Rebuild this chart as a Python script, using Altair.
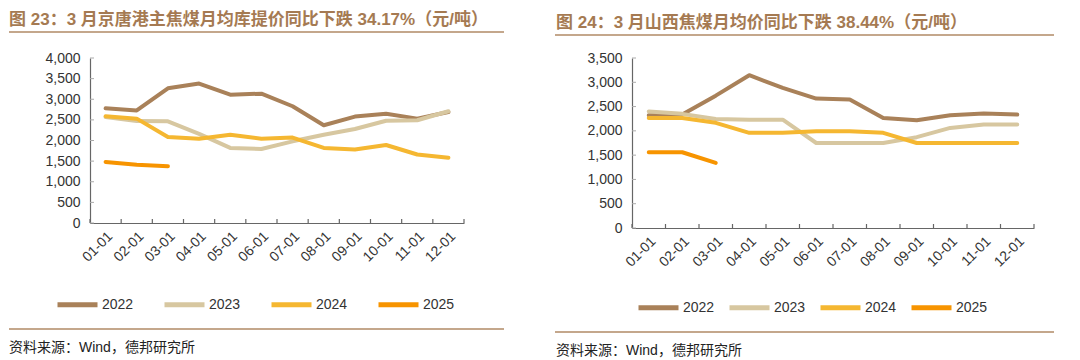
import altair as alt
import pandas as pd

months = ["01-01", "02-01", "03-01", "04-01", "05-01", "06-01",
          "07-01", "08-01", "09-01", "10-01", "11-01", "12-01"]
years = ["2022", "2023", "2024", "2025"]
colors = ["#A98159", "#D7C7A0", "#F5B731", "#F79400"]

# 图23 京唐港主焦煤库提价（元/吨）
left_2022 = [2780, 2730, 3265, 3380, 3110, 3135, 2830, 2370, 2580, 2650, 2530, 2690]
left_2023 = [2570, 2470, 2465, 2160, 1820, 1795, 1980, 2140, 2280, 2480, 2490, 2710]
left_2024 = [2590, 2530, 2085, 2040, 2140, 2045, 2070, 1820, 1780, 1890, 1660, 1580]
left_2025 = [1480, 1410, 1375]

# 图24 山西焦煤月均价（元/吨）
right_2022 = [2320, 2335, 2725, 3145, 2885, 2665, 2645, 2265, 2220, 2320, 2355, 2335]
right_2023 = [2400, 2350, 2245, 2230, 2230, 1750, 1750, 1750, 1870, 2060, 2130, 2130]
right_2024 = [2265, 2265, 2165, 1960, 1960, 1990, 1990, 1960, 1750, 1750, 1750, 1750]
right_2025 = [1560, 1560, 1340]

left_ticks = [0, 500, 1000, 1500, 2000, 2500, 3000, 3500, 4000]
right_ticks = [0, 500, 1000, 1500, 2000, 2500, 3000, 3500]

left_title = "图 23：3 月京唐港主焦煤月均库提价同比下跌 34.17%（元/吨）"
right_title = "图 24：3 月山西焦煤月均价同比下跌 38.44%（元/吨）"
source = "资料来源：Wind，德邦研究所"

BROWN = "#A57A52"
AXIS = "#666666"
LATIN = "Liberation Sans"
MIXED = "Liberation Sans, Noto Sans CJK SC"


def long_df(series):
    rows = []
    for yr, vals in zip(years, series):
        for m, v in zip(months, vals):
            rows.append({"month": m, "year": yr, "value": v})
    return pd.DataFrame(rows)


def panel(series, ticks, w, h, title, g):
    df = long_df(series)
    xsc = alt.Scale(type="band", domain=months, paddingInner=0, paddingOuter=0)
    ysc = alt.Scale(domain=[0, ticks[-1]], nice=False)

    lines = alt.Chart(df).mark_line(strokeWidth=4, strokeCap="round", strokeJoin="round").encode(
        x=alt.X("month:N", scale=xsc, bandPosition=0.5, title=None,
                axis=alt.Axis(labelAngle=-45, labelFontSize=14, labelFont=LATIN,
                              labelColor="#333333", ticks=False, domainColor=AXIS,
                              domainWidth=1.2, labelPadding=6, labelOverlap=False)),
        y=alt.Y("value:Q", scale=ysc, title=None,
                axis=alt.Axis(values=ticks, tickCount=len(ticks) + 5, format=",.0f",
                              labelFontSize=14, labelFont=LATIN,
                              labelColor="#333333", ticks=False, grid=False,
                              labelOverlap=False, labelFlush=False,
                              domainColor=AXIS, domainWidth=1.2, labelPadding=10)),
        color=alt.Color("year:N", scale=alt.Scale(domain=years, range=colors),
                        legend=alt.Legend(orient="none", legendX=g["lx"], legendY=g["ly"],
                                          direction="horizontal", columns=4, title=None,
                                          symbolType="stroke", symbolSize=1600,
                                          symbolStrokeWidth=5, labelFontSize=14,
                                          labelFont=LATIN, labelColor="#333333",
                                          labelOffset=2, columnPadding=g["cp"])),
        order=alt.Order("month:N"),
    )

    mdf = pd.DataFrame({"month": months})
    xticks = alt.Chart(mdf).mark_rule(color=AXIS, strokeWidth=1.2).encode(
        x=alt.X("month:N", scale=xsc, bandPosition=0),
        y=alt.value(h - 4), y2=alt.value(h))
    xend = alt.Chart(mdf.head(1)).mark_rule(color=AXIS, strokeWidth=1.2).encode(
        x=alt.value(w), y=alt.value(h - 4), y2=alt.value(h))
    yticks = alt.Chart(pd.DataFrame({"v": ticks})).mark_rule(color="#aaaaaa", strokeWidth=1).encode(
        y=alt.Y("v:Q", scale=ysc), x=alt.value(0), x2=alt.value(4))

    tdf = pd.DataFrame({"t": [title]})
    ttl = alt.Chart(tdf).mark_text(align="left", baseline="middle", font=MIXED, fontSize=17,
                                   fontWeight="bold", color=BROWN).encode(
        x=alt.value(g["tx"]), y=alt.value(g["ty"]), text="t:N")
    sep_top = alt.Chart(tdf).mark_rule(color="#B08A66", strokeWidth=1.5).encode(
        x=alt.value(g["sx1"]), x2=alt.value(g["sx2"]), y=alt.value(g["st"]))
    sep_bot = alt.Chart(tdf).mark_rule(color="#B08A66", strokeWidth=1.5).encode(
        x=alt.value(g["sx1"]), x2=alt.value(g["sx2"]), y=alt.value(g["sb"]))
    sdf = pd.DataFrame({"s": [source]})
    src = alt.Chart(sdf).mark_text(align="left", baseline="middle", font=MIXED, fontSize=14,
                                   color="#222222").encode(
        x=alt.value(g["tx"]), y=alt.value(g["sy"]), text="s:N")

    return alt.layer(lines, xticks, xend, yticks, ttl, sep_top, sep_bot, src).properties(
        width=w, height=h)


left = panel([left_2022, left_2023, left_2024, left_2025], left_ticks, 374, 165, left_title,
             dict(lx=-35, ly=224, cp=20, tx=-81, ty=-38, sx1=-81, sx2=414, st=-26, sb=271, sy=290))
right = panel([right_2022, right_2023, right_2024, right_2025], right_ticks, 402, 170, right_title,
              dict(lx=4, ly=227, cp=4, tx=-76, ty=-35, sx1=-77, sx2=422, st=-23, sb=274, sy=293))

chart = alt.hconcat(left, right, spacing=49).resolve_scale(
    color="independent", x="independent", y="independent"
).resolve_legend(color="independent").properties(
    padding={"left": 0, "top": 3, "right": 0, "bottom": 0}
).configure_view(stroke=None)

chart.save("out.html", embed_options={"renderer": "svg", "actions": False})
